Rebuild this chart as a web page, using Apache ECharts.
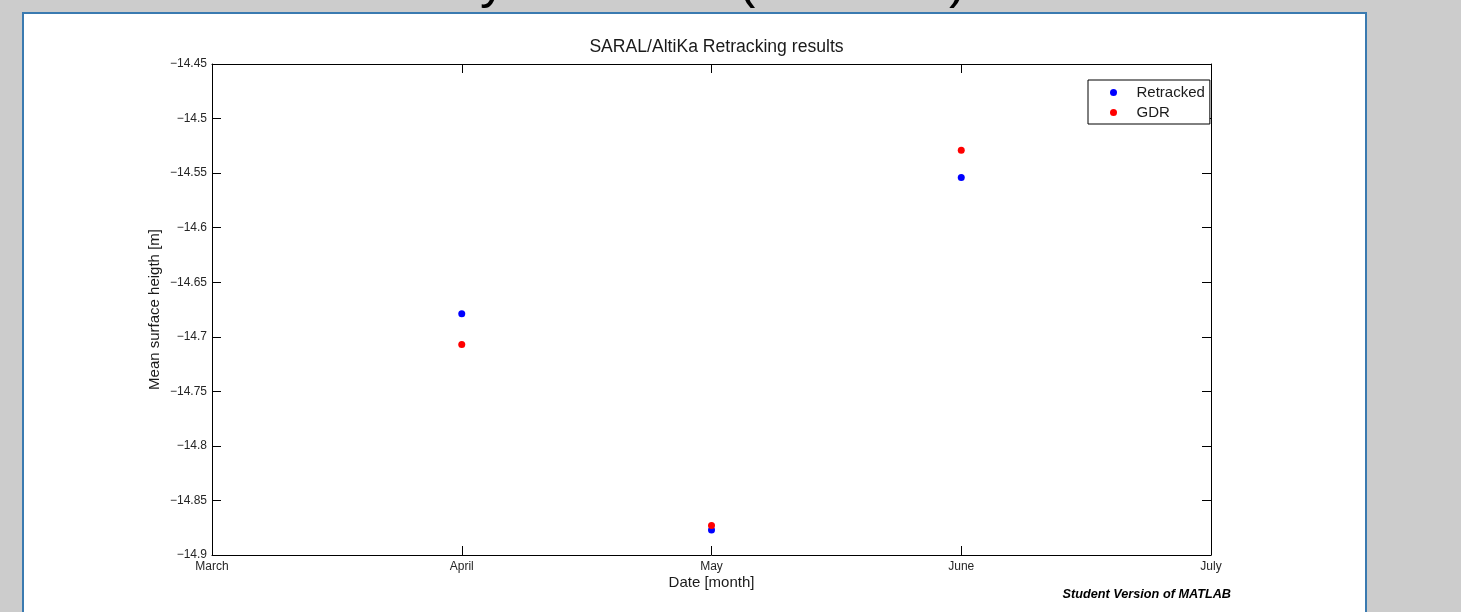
<!DOCTYPE html>
<html>
<head>
<meta charset="utf-8">
<script src="https://cdn.jsdelivr.net/npm/echarts@6/dist/echarts.min.js"></script>
<style>
html,body{margin:0;padding:0;background:#cccccc;}
#chart{width:1461px;height:612px;}
</style>
</head>
<body>
<div id="chart"></div>
<script>
var monthLabels = ['March', 'April', 'May', 'June', 'July'];
var seriesNames = ['Retracked', 'GDR'];
var retrackedX = [1, 2, 3];
var retrackedY = [-14.679, -14.877, -14.554];
var gdrX = [1, 2, 3];
var gdrY = [-14.707, -14.873, -14.529];
var yMin = -14.9, yMax = -14.45, yStep = 0.05;

function pairs(xs, ys) { return xs.map(function (x, i) { return [x, ys[i]]; }); }
function yFmt(v) {
  var s = String(parseFloat(Math.abs(v).toFixed(2)));
  return (v < 0 ? '\u2212' : '') + s;
}
var FONT = '"Liberation Sans", Arial, sans-serif';
var tickLabel = { color: '#262626', fontSize: 12, fontFamily: FONT };

var chart = echarts.init(document.getElementById('chart'));
chart.setOption({
  backgroundColor: '#cccccc',
  animation: false,
  title: {
    text: 'SARAL/AltiKa Retracking results',
    left: 711.5, top: 33, textAlign: 'center',
    textStyle: { fontSize: 17.6, fontWeight: 'normal', color: '#1a1a1a', fontFamily: FONT }
  },
  graphic: [
    { type: 'rect', z: -10, shape: { x: 23, y: 13, width: 1343, height: 610 },
      style: { fill: '#ffffff', stroke: '#3a7ab0', lineWidth: 2 } },
    { type: 'text', x: 480, y: 9, style: { text: 'y', fontSize: 52, fontFamily: FONT, fill: '#000', verticalAlign: 'bottom' } },
    { type: 'text', x: 738, y: 9, style: { text: '(', fontSize: 52, fontFamily: FONT, fill: '#000', verticalAlign: 'bottom' } },
    { type: 'text', x: 949, y: 9, style: { text: ')', fontSize: 52, fontFamily: FONT, fill: '#000', verticalAlign: 'bottom' } },
    { type: 'text', x: 1231, y: 594, style: { text: 'Student Version of MATLAB', fontSize: 12.7, fontWeight: 'bold', fontStyle: 'italic', fontFamily: FONT, fill: '#000', align: 'right', verticalAlign: 'middle' } }
  ],
  legend: {
    data: seriesNames,
    orient: 'vertical',
    left: 1088, top: 80,
    padding: [5, 5, 4, 22],
    itemGap: 5,
    itemWidth: 7, itemHeight: 7,
    icon: 'circle',
    borderColor: '#000', borderWidth: 1, borderRadius: 0,
    backgroundColor: '#fff',
    textStyle: { fontSize: 15, lineHeight: 14, color: '#1a1a1a', fontFamily: FONT, padding: [0, 0, 0, 14.5] }
  },
  grid: { left: 212, right: 250, top: 64, bottom: 57, containLabel: false },
  xAxis: [{
    type: 'value', min: 0, max: 4, interval: 1,
    name: 'Date [month]', nameLocation: 'middle', nameGap: 20, nameMoveOverlap: false,
    nameTextStyle: { fontSize: 15, color: '#1a1a1a', fontFamily: FONT },
    axisLine: { show: true, lineStyle: { color: '#000', width: 1 } },
    axisTick: { show: true, inside: true, length: 9, lineStyle: { color: '#000' } },
    axisLabel: Object.assign({ margin: 6, formatter: function (v) { return monthLabels[v]; } }, tickLabel),
    splitLine: { show: false }
  }, {
    type: 'value', min: 0, max: 4, interval: 1, position: 'top',
    axisLine: { show: true, lineStyle: { color: '#000', width: 1 } },
    axisTick: { show: true, inside: true, length: 9, lineStyle: { color: '#000' } },
    axisLabel: { show: false }, splitLine: { show: false }
  }],
  yAxis: [{
    type: 'value', min: yMin, max: yMax, interval: yStep,
    name: 'Mean surface heigth [m]', nameLocation: 'middle', nameGap: 50, nameRotate: 90, nameMoveOverlap: false,
    nameTextStyle: { fontSize: 15, color: '#1a1a1a', fontFamily: FONT },
    axisLine: { show: true, onZero: false, lineStyle: { color: '#000', width: 1 } },
    axisTick: { show: true, inside: true, length: 9, lineStyle: { color: '#000' } },
    axisLabel: Object.assign({ margin: 5, formatter: yFmt }, tickLabel),
    splitLine: { show: false }
  }, {
    type: 'value', min: yMin, max: yMax, interval: yStep, position: 'right',
    axisLine: { show: true, onZero: false, lineStyle: { color: '#000', width: 1 } },
    axisTick: { show: true, inside: true, length: 9, lineStyle: { color: '#000' } },
    axisLabel: { show: false }, splitLine: { show: false }
  }],
  series: [{
    name: seriesNames[0], type: 'scatter', symbol: 'circle', symbolSize: 7,
    itemStyle: { color: '#0000ff', opacity: 1 },
    data: pairs(retrackedX, retrackedY)
  }, {
    name: seriesNames[1], type: 'scatter', symbol: 'circle', symbolSize: 7,
    itemStyle: { color: '#ff0000', opacity: 1 },
    data: pairs(gdrX, gdrY)
  }]
});
</script>
</body>
</html>
